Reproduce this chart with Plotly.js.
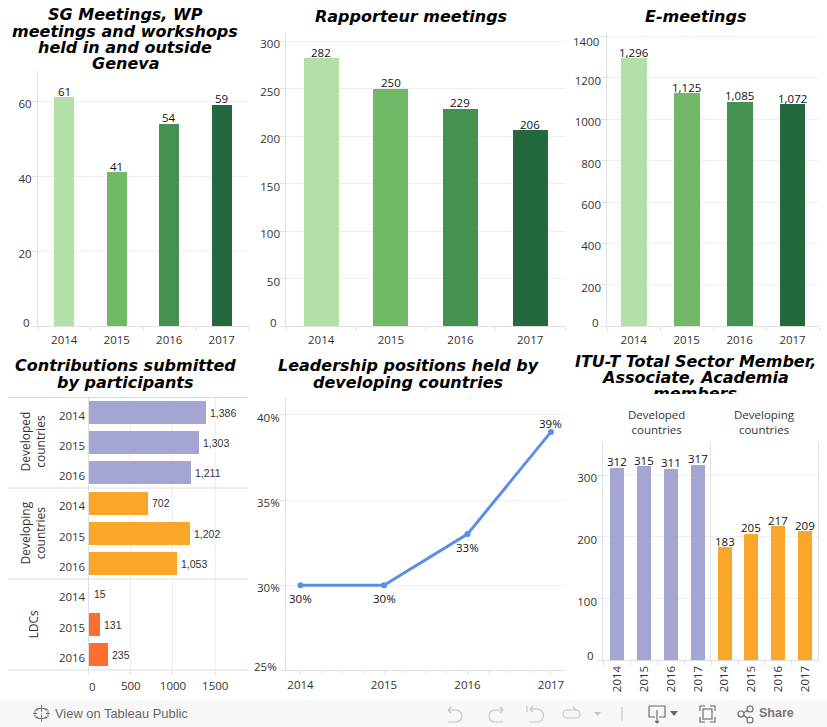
<!DOCTYPE html>
<html><head><meta charset="utf-8">
<script src="https://cdn.plot.ly/plotly-3.0.1.min.js"></script>
<style>
html,body{margin:0;padding:0;background:#fff;overflow:hidden}
#wrap{position:relative;width:827px;height:727px}
#chart{position:absolute;left:0;top:0;width:827px;height:727px}
.clip{position:absolute;background:#fff}
#bar{position:absolute;left:0;top:700px;width:827px;height:27px;background:#f7f7f7;color:#666;font:12.9px "Liberation Sans",sans-serif}
#bar span{position:absolute;top:6px;white-space:nowrap}
#bar svg{position:absolute;left:0;top:0}
</style></head><body>
<div id="wrap"><div id="chart"></div>
<div class="clip" style="left:60px;top:68.5px;width:130px;height:2.5px"></div>
<div class="clip" style="left:580px;top:393.5px;width:240px;height:7px"></div>
<div id="bar">
<svg width="827" height="27" fill="none" stroke-width="1.1">
 <g stroke="#777" stroke-width="1">
  <path d="M41.500 5v7M38 8.500h7M41.500 15v7M38 18.500h7M35 10v7M33 13.500h4M48 10v7M46 13.500h4M41 13.500h1M37 8v3M35.500 9.500h3M46 8v3M44.500 9.500h3M37 16v3M35.500 17.500h3M46 16v3M44.500 17.500h3"/>
 </g>
 <g stroke="#c4c4c4">
  <path d="M448 10h8a6 6 0 0 1 0 12h-8M448 10l3-3M448 10l3 3"/>
  <path d="M503 10h-8a6 6 0 0 0 0 12h8M503 10l-3-3M503 10l-3 3"/>
  <path d="M527 6v6M530 9h7a6 6 0 0 1 0 13h-7M530 9l3-3M530 9l3 3"/>
  <path d="M576 10h-9a4 4 0 0 0 0 8h9a4 4 0 0 0 0-8M576 10l-3-3"/>
  <path d="M622 7v14"/></g>
 <path d="M594 12h7l-3.500 4z" fill="#c4c4c4"/>
 <g stroke="#666">
  <path d="M649 6h16v11h-6M655 17h-6V6M657 10v13M655 21l2 2 2-2"/>
  <path d="M700 11V6h5M710 6h5v5M715 17v5h-5M705 22h-5v-5"/><rect x="703" y="9" width="9" height="10"/>
  <circle cx="741" cy="14" r="3"/><circle cx="750" cy="9" r="3"/><circle cx="750" cy="20" r="3"/><path d="M744 12.500l3.500-2M744 15.500l3.500 3"/>
 </g>
 <path d="M670 11h8l-4 5z" fill="#666"/>
</svg>
<span style="left:55px">View on Tableau Public</span>
<span style="left:759px;font-weight:bold;color:#777;font-size:12.5px">Share</span>
</div></div>
<script>
const years4 = ['2014','2015','2016','2017'];
const years3 = ['2014','2015','2016'];
const greens = ['#b3e0a6','#71b966','#459150','#24693d'];
const purple = '#a5a5d3', orange = '#faa629', red = '#ff6d31', blue = '#5b8ee6';

const sgMeetings = [61,41,54,59];
const rapporteur = [282,250,229,206];
const eMeetings = [1296,1125,1085,1072];
const contribDeveloped = [1386,1303,1211];
const contribDeveloping = [702,1202,1053];
const contribLDC = [15,131,235];
const leadershipYears = [2014,2015,2016,2017];
const leadership = [30,30,33,39];
const membersDeveloped = [312,315,311,317];
const membersDeveloping = [183,205,217,209];

const sgTicks=[0,20,40,60];
const rapTicks=[0,50,100,150,200,250,300];
const eTicks=[0,200,400,600,800,1000,1200,1400];
const contribTicks=[0,500,1000,1500];
const leaderTicks=[25,30,35,40];
const memberTicks=[0,100,200,300];

const W=827,H=727;
const px=x=>x/W, py=y=>1-y/H;
const tickFont={family:'"Open Sans",sans-serif',size:11.5,color:'#333'};
const lblFont={family:'"Open Sans",sans-serif',size:11.5,color:'#111'};
const arialLbl={family:'"Liberation Sans",sans-serif',size:10.5,color:'#333'};
const GRID='#efefef',LINE='#e0e0e0';

const layout={width:W,height:H,margin:{l:0,r:0,t:0,b:0},paper_bgcolor:'#fff',plot_bgcolor:'rgba(0,0,0,0)',
  showlegend:false,bargap:0,annotations:[],shapes:[]};
const data=[];
// first label is drawn separately because it sits above its gridline, clear of the axis line
const hideLow=(t,fmt)=>t.map((v,i)=>i===0?'':(fmt?fmt(v):String(v)));
function xAx(n,x0,x1,extra){layout['xaxis'+n]=Object.assign({domain:[px(x0),px(x1)],anchor:'y'+n,type:'category',
  showgrid:false,zeroline:false,showline:true,linecolor:LINE,ticks:'outside',ticklen:4,tickcolor:LINE,tickson:'boundaries',
  tickfont:tickFont,fixedrange:true,ticklabelstandoff:3},extra||{});}
function yAx(n,y0,y1,extra){layout['yaxis'+n]=Object.assign({domain:[py(y1),py(y0)],anchor:'x'+n,
  showgrid:true,gridcolor:GRID,zeroline:false,showline:true,linecolor:LINE,ticks:'outside',ticklen:5,tickcolor:LINE,
  tickfont:tickFont,fixedrange:true,ticklabelshift:3,ticklabelstandoff:-2},extra||{});}
function vbar(n,x,y,colors,width){
  data.push({type:'bar',xaxis:'x'+n,yaxis:'y'+n,x:x,y:y,width:width,marker:{color:colors,line:{width:0}},hoverinfo:'x+y'});
  y.forEach((v,i)=>layout.annotations.push({text:v.toLocaleString('en-US'),xref:'x'+n,yref:'y'+n,x:i,y:v,xanchor:'center',yanchor:'middle',
    yshift:6,showarrow:false,font:lblFont}));}
function hbar(n,labels,vals,colors){
  data.push({type:'bar',orientation:'h',xaxis:'x'+n,yaxis:'y'+n,x:vals,y:labels,width:0.76,marker:{color:colors,line:{width:0}},hoverinfo:'x+y'});
  vals.forEach((v,i)=>layout.annotations.push({text:v.toLocaleString('en-US'),xref:'x'+n,yref:'y'+n,x:v,y:i,xanchor:'left',yanchor:'middle',
    xshift:2,showarrow:false,font:arialLbl}));}
function title(lines,x,ys){lines.forEach((t,i)=>layout.annotations.push({text:t,xref:'paper',yref:'paper',x:px(x),y:py(ys[i]),
  xanchor:'center',yanchor:'middle',showarrow:false,
  font:{family:'"DejaVu Sans",sans-serif',size:16,weight:'bold',style:'italic',color:'#000'}}));}
function note(t,x,y,ang,size){layout.annotations.push({text:t,xref:'paper',yref:'paper',x:px(x),y:py(y),xanchor:'center',yanchor:'middle',
  showarrow:false,textangle:ang||0,font:{family:'"Open Sans",sans-serif',size:size||11.5,color:'#333'}});}
function lowTick(t,xRight,y){layout.annotations.push({text:t,xref:'paper',yref:'paper',x:px(xRight+1),y:py(y),xanchor:'right',yanchor:'middle',
  showarrow:false,font:tickFont});}

// SG meetings
xAx(1,38,248); yAx(1,71,326,{range:[0,68],tickvals:sgTicks,ticktext:hideLow(sgTicks)});
vbar(1,years4,sgMeetings,greens,0.38);
lowTick('0',31,322);
title(['SG Meetings, WP','meetings and workshops','held in and outside','Geneva'],125,[15,31.5,47.5,63.5]);

// Rapporteur
xAx(2,286.3,565); yAx(2,31.7,326,{range:[0,310],tickvals:rapTicks,ticktext:hideLow(rapTicks)});
vbar(2,years4,rapporteur,greens,0.5);
lowTick('0',278,322);
title(['Rapporteur meetings'],410.7,[17]);

// E-meetings
xAx(3,607.3,819); yAx(3,31.7,326,{range:[0,1424],tickvals:eTicks,ticktext:eTicks.map((v,i)=>(i===0||i===eTicks.length-1)?'':String(v))});
vbar(3,years4,eMeetings,greens,0.49);
lowTick('0',599.7,322); lowTick('1400',599.7,41);
title(['E-meetings'],695.7,[17]);

// Contributions
const hx={domain:[px(88.5),px(248)],type:'linear',range:[0,1888],tickvals:contribTicks,ticktext:hideLow(contribTicks),showgrid:true,gridcolor:GRID,
  zeroline:false,showline:false,fixedrange:true,tickfont:tickFont,ticklabelstandoff:1};
const hy=(y0,y1)=>({domain:[py(y1),py(y0)],type:'category',autorange:'reversed',showgrid:false,zeroline:false,showline:true,
  linecolor:LINE,ticks:'',tickfont:tickFont,fixedrange:true,ticklabelshift:-3});
[[4,397.5,488],[5,488,579],[6,579,670]].forEach(([n,a,b])=>{
  layout['xaxis'+n]=Object.assign({},hx,{anchor:'y'+n},n===6?{ticks:'outside',ticklen:4,tickcolor:LINE}:{showticklabels:false,ticks:''});
  layout['yaxis'+n]=Object.assign(hy(a,b),{anchor:'x'+n});
});
hbar(4,years3,contribDeveloped,purple);
hbar(5,years3,contribDeveloping,orange);
hbar(6,years3,contribLDC,['rgba(0,0,0,0)',red,red]);
[397.5,488,579,670].forEach(y=>layout.shapes.push({type:'line',xref:'paper',yref:'paper',x0:px(8),x1:px(248),y0:py(y),y1:py(y),line:{color:'#dcdcdc',width:1}}));
note('Developed<br>countries',32.5,442,-90,12);
note('Developing<br>countries',32.5,533,-90,12);
note('LDCs',32.5,624,-90,12);
note('0',92.5,686);
title(['Contributions submitted','by participants'],125,[365,382]);

// Leadership
layout.xaxis7={domain:[px(286),px(565)],anchor:'y7',type:'linear',range:[2013.826,2017.168],tickvals:leadershipYears,
  tickformat:'d',showgrid:false,zeroline:false,showline:true,linecolor:LINE,ticks:'outside',ticklen:4,tickcolor:LINE,
  tickfont:tickFont,fixedrange:true,minor:{dtick:0.25,ticks:'outside',ticklen:2,tickcolor:LINE,showgrid:false}};
yAx(7,397,670.3,{range:[25,41.05],tickvals:leaderTicks,ticktext:hideLow(leaderTicks,v=>v+'%')});
data.push({type:'scatter',mode:'lines+markers',xaxis:'x7',yaxis:'y7',x:leadershipYears,y:leadership,
  line:{color:blue,width:3},marker:{color:blue,size:6},cliponaxis:false,hoverinfo:'x+y'});
leadership.forEach((v,i)=>layout.annotations.push({text:v+'%',xref:'x7',yref:'y7',x:leadershipYears[i],y:v,xanchor:'center',yanchor:'middle',
  yshift:i===3?8:-13,showarrow:false,font:lblFont}));
lowTick('25%',278,666);
title(['Leadership positions held by','developing countries'],408,[365,382]);

// ITU-T members
const rot={tickangle:-90,ticklabelstandoff:0};
xAx(8,603.3,711.3,rot); xAx(9,711.3,818.3,rot);
yAx(8,442.3,660.3,{range:[0,353.5],tickvals:memberTicks,ticktext:hideLow(memberTicks)});
yAx(9,442.3,660.3,{range:[0,353.5],tickvals:memberTicks,showticklabels:false,ticks:'',mirror:true});
vbar(8,years4,membersDeveloped,purple,0.52);
vbar(9,years4,membersDeveloping,orange,0.52);
lowTick('0',595,655.7);
note('Developed<br>countries',656.5,422.500);
note('Developing<br>countries',764.5,422.500);
title(['ITU-T Total Sector Member,','Associate, Academia','members'],695,[361,377,393]);

Plotly.newPlot('chart',data,layout,{displayModeBar:false,staticPlot:true});
</script></body></html>
